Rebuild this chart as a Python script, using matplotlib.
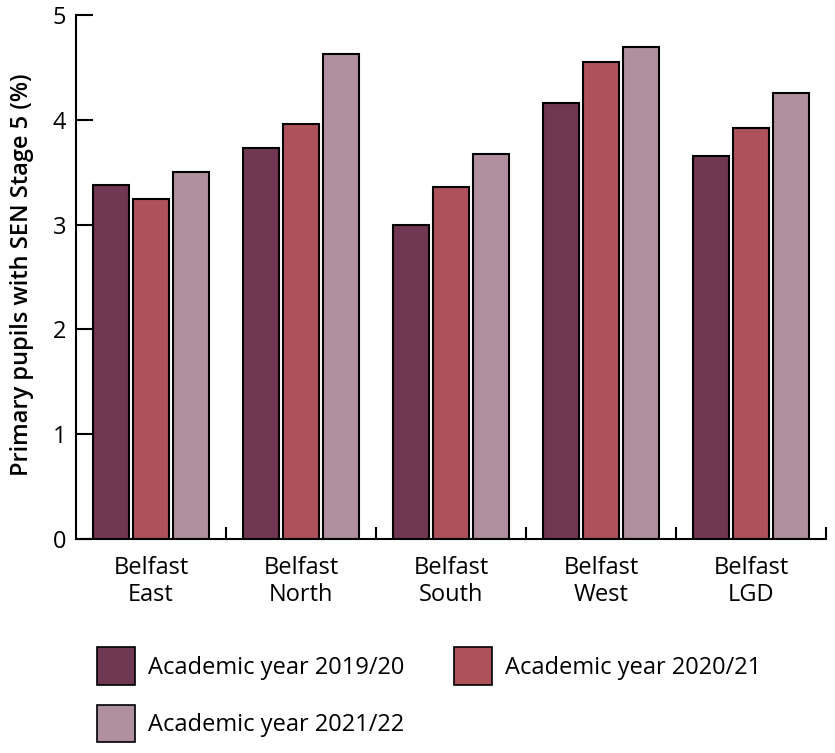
import matplotlib.pyplot as plt
import numpy as np
from matplotlib.patches import Patch

plt.rcParams['font.family'] = ['Open Sans', 'DejaVu Sans']

categories = ['Belfast\nEast', 'Belfast\nNorth', 'Belfast\nSouth', 'Belfast\nWest', 'Belfast\nLGD']
series_names = ['Academic year 2019/20', 'Academic year 2020/21', 'Academic year 2021/22']
vals_1920 = [3.38, 3.73, 3.00, 4.16, 3.65]
vals_2021 = [3.24, 3.96, 3.36, 4.55, 3.92]
vals_2122 = [3.50, 4.63, 3.67, 4.69, 4.26]
colors = ['#6f3752', '#ad525a', '#b0909e']

fig = plt.figure(figsize=(8.35, 7.53), dpi=100)
ax = fig.add_axes([76 / 835, 1 - 539 / 753, 750 / 835, 524 / 753])

x = np.arange(len(categories))
step = 0.267
width = 0.24
for i, (vals, col) in enumerate(zip([vals_1920, vals_2021, vals_2122], colors)):
    ax.bar(x + (i - 1) * step, vals, width, color=col, edgecolor='black', linewidth=1.5)

ax.set_xlim(-0.5, len(categories) - 0.5)
ax.set_ylim(0, 5)
ax.set_yticks(range(6))
ax.set_xticks(x)
ax.set_xticklabels(categories, fontsize=17, linespacing=1.2)
ax.set_xticks(np.arange(0.5, len(categories), 1), minor=True)
ax.tick_params(axis='x', which='major', length=0, pad=12)
ax.tick_params(axis='x', which='minor', direction='in', length=9, width=1.5)
ax.tick_params(axis='y', direction='in', length=12, width=1.5, labelsize=17, pad=7)

for s in ['top', 'right']:
    ax.spines[s].set_visible(False)
for s in ['left', 'bottom']:
    ax.spines[s].set_linewidth(1.5)

ax.set_ylabel('Primary pupils with SEN Stage 5 (%)', fontsize=17, fontweight='semibold')
ax.yaxis.set_label_coords(-0.056, 0.505)

# legend fills column-wise, so reorder to read row-wise
handles = [Patch(facecolor=c, edgecolor='black', linewidth=1.2) for c in colors]
order = [0, 2, 1]
fig.legend([handles[i] for i in order], [series_names[i] for i in order],
           loc='upper left', bbox_to_anchor=(88 / 835, 1 - 638 / 753),
           ncol=2, frameon=False, fontsize=17, handlelength=1.6, handleheight=2.05,
           handletextpad=0.55, columnspacing=2.1, labelspacing=0.85, borderaxespad=0)

fig.savefig('out.png', dpi=100)
